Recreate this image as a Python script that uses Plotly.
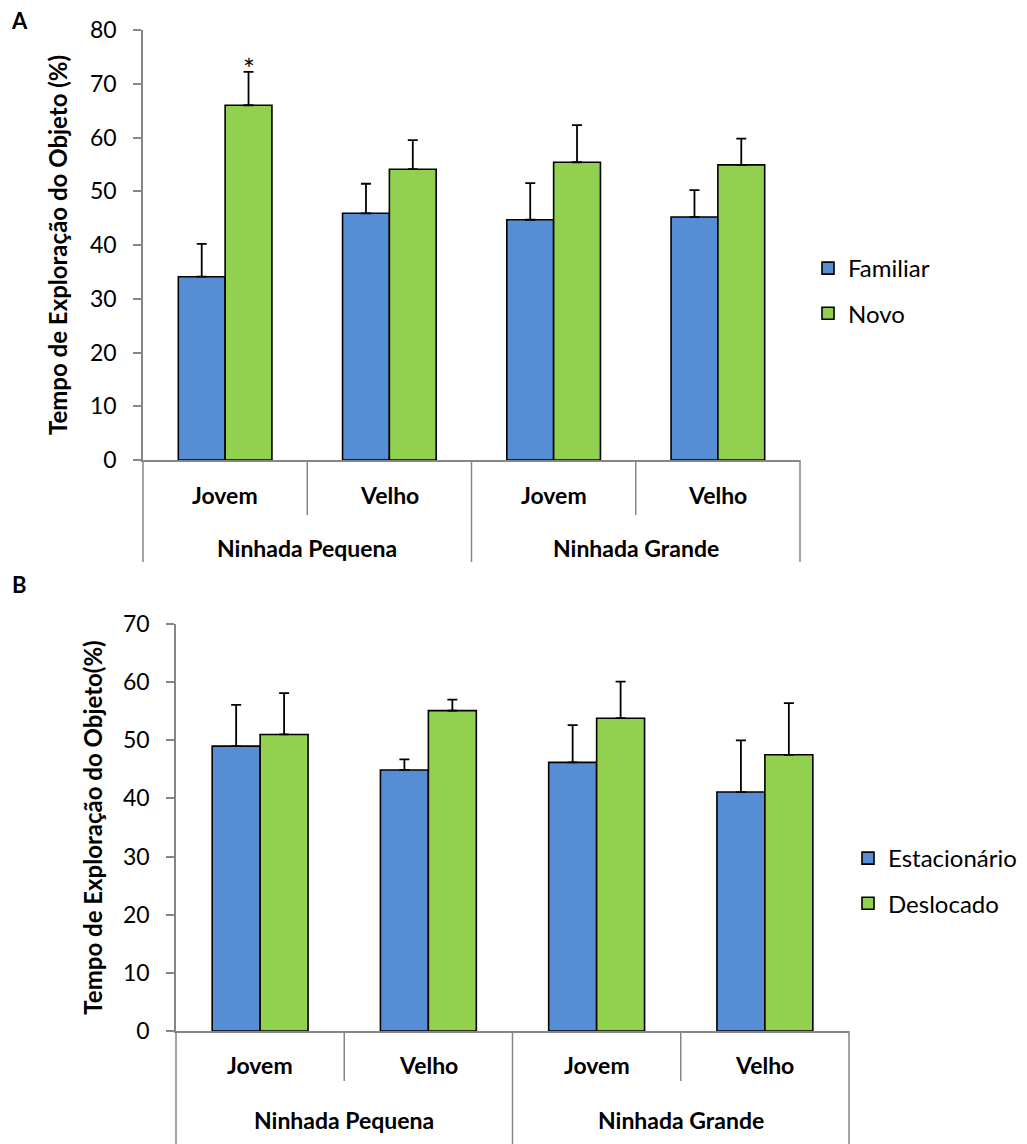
import plotly.graph_objects as go

# ---------------- data ----------------
litter = ["Ninhada Pequena", "Ninhada Pequena", "Ninhada Grande", "Ninhada Grande"]
age = ["Jovem", "Velho", "Jovem", "Velho"]

# Panel A
familiar_mean = [34.1, 45.9, 44.7, 45.2]
familiar_err = [6.1, 5.5, 6.8, 5.0]
novo_mean = [66.0, 54.1, 55.4, 54.9]
novo_err = [6.2, 5.4, 6.9, 4.9]
signif_a = ["*", "", "", ""]   # significance marks on Novo bars

# Panel B
estac_mean = [49.0, 44.9, 46.2, 41.1]
estac_err = [7.1, 1.8, 6.4, 8.9]
desloc_mean = [51.0, 55.1, 53.8, 47.5]
desloc_err = [7.1, 1.9, 6.3, 8.9]

yticks_a = [0, 10, 20, 30, 40, 50, 60, 70, 80]
yticks_b = [0, 10, 20, 30, 40, 50, 60, 70]

# ---------------- style ----------------
W, H = 1027, 1144
BLUE = "#558ED5"
GREEN = "#92D050"
AXC = "#868686"
FONT = "Lato"
BARGAP = 0.43

def px_x(p):
    return p / W

def px_y(p):
    return 1 - p / H

x_multi = [litter, age]

fig = go.Figure()

def bar(name, y, err, color, xa, ya, legend):
    return go.Bar(
        name=name, x=x_multi, y=y, xaxis=xa, yaxis=ya, legend=legend,
        legendgroup=name,
        marker=dict(color=color, line=dict(color="black", width=1.6)),
        error_y=dict(type="data", array=err, arrayminus=[0] * len(err),
                     symmetric=False, color="black", thickness=1.8, width=5),
    )

fig.add_trace(bar("Familiar", familiar_mean, familiar_err, BLUE, "x", "y", "legend"))
fig.add_trace(bar("Novo", novo_mean, novo_err, GREEN, "x", "y", "legend"))
fig.add_trace(bar("Estacionário", estac_mean, estac_err, BLUE, "x2", "y2", "legend2"))
fig.add_trace(bar("Deslocado", desloc_mean, desloc_err, GREEN, "x2", "y2", "legend2"))

dom_a_x = [px_x(143), px_x(800)]
dom_a_y = [px_y(460), px_y(30)]
dom_b_x = [px_x(176), px_x(849)]
dom_b_y = [px_y(1031), px_y(624)]

xcommon = dict(
    type="multicategory", showline=True, linecolor=AXC, linewidth=1.5,
    ticks="", showdividers=False, showgrid=False, zeroline=False,
    showticklabels=False, automargin=False,
)
ycommon = dict(
    showline=True, linecolor=AXC, linewidth=1.5, ticks="outside", ticklen=8,
    tickcolor=AXC, tickwidth=1.5, showgrid=False, zeroline=False,
    tickfont=dict(family=FONT, size=23, color="black"),
    automargin=False, ticklabelstandoff=12,
)

fig.update_layout(
    width=W, height=H, margin=dict(l=0, r=0, t=0, b=0),
    paper_bgcolor="white", plot_bgcolor="white",
    barmode="group", bargap=BARGAP, bargroupgap=0,
    font=dict(family=FONT, color="black"),
    xaxis=dict(domain=dom_a_x, anchor="y", **xcommon),
    yaxis=dict(domain=dom_a_y, anchor="x", range=[0, 80], tickvals=yticks_a,
               title=dict(text="Tempo de Exploração do Objeto (%)",
                          font=dict(family=FONT, size=24, weight="bold"), standoff=16),
               **ycommon),
    xaxis2=dict(domain=dom_b_x, anchor="y2", **xcommon),
    yaxis2=dict(domain=dom_b_y, anchor="x2", range=[0, 70], tickvals=yticks_b,
                title=dict(text="Tempo de Exploração do Objeto(%)",
                           font=dict(family=FONT, size=24, weight="bold"), standoff=14),
                **ycommon),
    legend=dict(x=px_x(808), y=px_y(246), xanchor="left", yanchor="top",
                font=dict(family=FONT, size=24), tracegroupgap=11,
                bgcolor="rgba(0,0,0,0)"),
    legend2=dict(x=px_x(848), y=px_y(836), xanchor="left", yanchor="top",
                 font=dict(family=FONT, size=24), tracegroupgap=11,
                 bgcolor="rgba(0,0,0,0)"),
    showlegend=True,
)

# category divider lines (below the axes)
shapes = []
def dividers(xref, y_axis_px, outer_bottom_px, inner_bottom_px):
    for fx in [0, 0.5, 1]:
        shapes.append(dict(type="line", xref=xref, yref="paper", x0=fx, x1=fx,
                           y0=px_y(y_axis_px), y1=px_y(outer_bottom_px),
                           line=dict(color=AXC, width=1.5)))
    for fx in [0.25, 0.75]:
        shapes.append(dict(type="line", xref=xref, yref="paper", x0=fx, x1=fx,
                           y0=px_y(y_axis_px), y1=px_y(inner_bottom_px),
                           line=dict(color=AXC, width=1.5)))

dividers("x domain", 460, 562, 515)
dividers("x2 domain", 1031, 1144, 1081)
fig.update_layout(shapes=shapes)

# two-level category labels
groups = list(dict.fromkeys(litter))
def cat_labels(xref, inner_px, outer_px):
    n = len(age)
    for i, a in enumerate(age):
        fig.add_annotation(x=(i + 0.5) / n, y=px_y(inner_px), xref=xref, yref="paper",
                           text="<b>%s</b>" % a, showarrow=False,
                           xanchor="center", yanchor="middle",
                           font=dict(family=FONT, size=23, color="black"))
    for g, name in enumerate(groups):
        fig.add_annotation(x=(g + 0.5) / len(groups), y=px_y(outer_px), xref=xref,
                           yref="paper", text="<b>%s</b>" % name, showarrow=False,
                           xanchor="center", yanchor="middle",
                           font=dict(family=FONT, size=23, color="black"))

cat_labels("x domain", 495, 548)
cat_labels("x2 domain", 1065, 1120)

# significance marks above Novo bars (Novo bar is the 2nd in each group)
bar_w = (1 - BARGAP) / 2
for i, s in enumerate(signif_a):
    if s:
        fig.add_annotation(x=i + bar_w / 2, y=novo_mean[i] + novo_err[i], xref="x", yref="y",
                           text=s, showarrow=False, yanchor="bottom", yshift=-16,
                           font=dict(family=FONT, size=28, color="black"))

# panel letters
fig.add_annotation(x=px_x(19), y=px_y(21), xref="paper", yref="paper", text="<b>A</b>",
                   showarrow=False, xanchor="center", yanchor="middle",
                   font=dict(family=FONT, size=22, color="black"))
fig.add_annotation(x=px_x(19), y=px_y(584), xref="paper", yref="paper", text="<b>B</b>",
                   showarrow=False, xanchor="center", yanchor="middle",
                   font=dict(family=FONT, size=22, color="black"))

fig.write_html("out.html")
